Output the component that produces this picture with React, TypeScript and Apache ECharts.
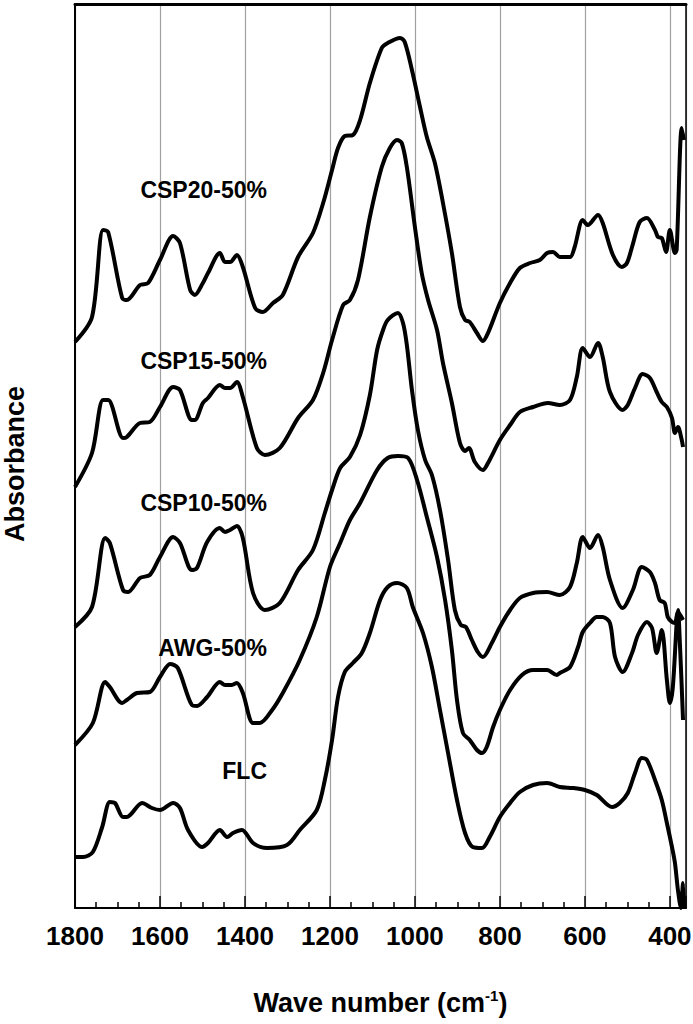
import React, { useEffect, useRef } from "react";
import * as echarts from "echarts";

// Wavenumber (cm-1) and absorbance (arbitrary units, stacked offsets) for each spectrum
const CSP20_WN = [1800, 1760, 1734, 1722, 1689, 1678, 1647, 1628, 1600, 1569, 1553, 1529, 1518, 1499, 1487, 1459, 1447, 1435, 1419, 1405, 1376, 1358, 1334, 1311, 1275, 1240, 1216, 1195, 1181, 1165, 1146, 1129, 1106, 1078, 1064, 1035, 1024, 1007, 988, 972, 953, 934, 913, 894, 882, 871, 854, 840, 828, 800, 776, 753, 729, 706, 689, 675, 659, 635, 624, 605, 593, 569, 558, 534, 513, 501, 489, 471, 454, 435, 428, 419, 409, 400, 388, 384, 372, 367];
const CSP20_ABS = [566, 591, 678, 676, 610, 608, 623, 625, 648, 672, 665, 618, 613, 625, 635, 655, 646, 646, 653, 641, 600, 596, 605, 613, 651, 675, 705, 738, 760, 772, 773, 788, 825, 860, 865, 870, 866, 838, 801, 771, 745, 705, 655, 601, 588, 586, 575, 567, 575, 605, 625, 640, 645, 648, 655, 656, 651, 651, 661, 688, 683, 693, 685, 653, 641, 645, 661, 686, 690, 678, 671, 670, 656, 678, 655, 658, 780, 768];

const CSP15_WN = [1800, 1760, 1734, 1722, 1687, 1678, 1647, 1624, 1600, 1569, 1553, 1525, 1518, 1499, 1487, 1459, 1447, 1435, 1419, 1405, 1372, 1353, 1318, 1275, 1240, 1216, 1195, 1169, 1153, 1134, 1106, 1078, 1059, 1042, 1031, 1019, 1000, 984, 969, 948, 934, 913, 894, 882, 873, 859, 840, 828, 800, 776, 753, 722, 687, 659, 635, 619, 605, 588, 569, 558, 541, 511, 499, 482, 464, 447, 431, 419, 407, 395, 388, 381, 372, 369];
const CSP15_ABS = [421, 455, 508, 508, 470, 471, 485, 486, 501, 521, 518, 488, 488, 505, 510, 523, 520, 520, 526, 511, 460, 453, 460, 490, 508, 535, 568, 603, 608, 628, 691, 741, 760, 768, 765, 741, 681, 635, 608, 578, 545, 505, 465, 457, 460, 446, 438, 445, 468, 483, 496, 501, 505, 503, 508, 531, 560, 551, 565, 551, 516, 498, 503, 520, 534, 530, 516, 506, 501, 490, 475, 481, 468, 461];

const CSP10_WN = [1800, 1760, 1729, 1718, 1687, 1675, 1647, 1624, 1600, 1569, 1553, 1525, 1513, 1489, 1459, 1447, 1435, 1419, 1405, 1381, 1353, 1318, 1275, 1240, 1212, 1195, 1176, 1153, 1129, 1106, 1089, 1075, 1064, 1040, 1028, 1019, 1007, 993, 976, 960, 941, 922, 906, 892, 880, 866, 852, 840, 819, 800, 776, 753, 722, 689, 659, 635, 619, 605, 588, 569, 558, 541, 511, 487, 466, 447, 435, 424, 412, 405, 395, 388, 381, 369];
const CSP10_ABS = [281, 301, 370, 365, 318, 316, 330, 333, 351, 371, 365, 338, 340, 366, 380, 376, 378, 382, 370, 315, 298, 305, 338, 358, 395, 418, 440, 451, 473, 513, 558, 578, 588, 595, 585, 563, 518, 478, 448, 433, 398, 348, 298, 283, 281, 268, 256, 251, 265, 281, 298, 310, 315, 316, 313, 321, 345, 371, 360, 373, 361, 328, 300, 318, 341, 336, 325, 308, 305, 291, 286, 285, 296, 288];

const AWG_WN = [1800, 1758, 1729, 1718, 1689, 1678, 1654, 1624, 1600, 1576, 1558, 1525, 1513, 1489, 1459, 1447, 1431, 1419, 1405, 1381, 1365, 1336, 1311, 1271, 1231, 1200, 1176, 1153, 1129, 1089, 1064, 1040, 1016, 995, 972, 948, 929, 913, 901, 887, 871, 854, 842, 831, 816, 800, 776, 748, 722, 689, 666, 659, 635, 616, 605, 588, 572, 558, 541, 529, 511, 489, 475, 454, 442, 431, 419, 407, 400, 393, 384, 381, 376, 369];
const AWG_ABS = [163, 185, 226, 221, 205, 208, 215, 216, 231, 244, 240, 203, 202, 211, 226, 223, 223, 225, 215, 185, 185, 198, 215, 248, 291, 341, 365, 388, 405, 438, 450, 452, 450, 428, 391, 351, 308, 258, 208, 175, 168, 158, 155, 161, 181, 198, 218, 233, 238, 238, 233, 235, 241, 261, 276, 285, 291, 291, 285, 251, 236, 255, 273, 286, 280, 255, 278, 228, 205, 221, 285, 298, 261, 188];

const FLC_WN = [1800, 1781, 1758, 1736, 1718, 1706, 1687, 1678, 1642, 1619, 1600, 1569, 1553, 1534, 1501, 1487, 1459, 1442, 1428, 1407, 1381, 1348, 1301, 1271, 1231, 1212, 1195, 1181, 1165, 1146, 1125, 1106, 1082, 1064, 1042, 1019, 1005, 981, 960, 941, 922, 901, 882, 864, 842, 824, 800, 776, 753, 722, 689, 659, 628, 600, 572, 536, 518, 499, 482, 466, 454, 435, 419, 407, 395, 388, 381, 374, 369, 367];
const FLC_ABS = [51, 51, 56, 81, 106, 105, 91, 91, 105, 100, 98, 105, 100, 78, 61, 65, 78, 71, 75, 78, 65, 60, 63, 78, 98, 128, 168, 211, 236, 245, 255, 275, 308, 321, 325, 320, 301, 275, 241, 198, 155, 108, 75, 61, 60, 71, 91, 105, 116, 123, 125, 121, 120, 118, 113, 101, 105, 115, 135, 150, 148, 128, 108, 85, 61, 45, 18, 0, 25, 1];

const SPECTRA = [
  { name: "CSP20-50%", wn: CSP20_WN, abs: CSP20_ABS },
  { name: "CSP15-50%", wn: CSP15_WN, abs: CSP15_ABS },
  { name: "CSP10-50%", wn: CSP10_WN, abs: CSP10_ABS },
  { name: "AWG-50%", wn: AWG_WN, abs: AWG_ABS },
  { name: "FLC", wn: FLC_WN, abs: FLC_ABS },
];

const LABEL_Y = [190, 361, 503, 648, 771];

const X_MIN = 362;
const X_MAX = 1800;
const Y_MAX = 904;

const FONT = "'Liberation Sans', Arial, sans-serif";

export default function App() {
  const ref = useRef<HTMLDivElement>(null);

  useEffect(() => {
    if (!ref.current) return;
    const chart = echarts.init(ref.current, undefined, { renderer: "svg" });

    const series = SPECTRA.map((s) => ({
      name: s.name,
      type: "line",
      xAxisIndex: 0,
      yAxisIndex: 0,
      data: s.wn.map((w, i) => [w, s.abs[i]]),
      showSymbol: false,
      symbol: "none",
      smooth: 0.3,
      lineStyle: { color: "#000", width: 4 },
      z: 5,
    }));

    const graphic: any[] = SPECTRA.map((s, i) => ({
      type: "text",
      x: 267,
      y: LABEL_Y[i],
      style: {
        text: s.name,
        fill: "#000",
        font: `bold 23px ${FONT}`,
        textAlign: "right",
        textVerticalAlign: "middle",
      },
      z: 10,
    }));
    graphic.push({
      type: "text",
      x: 15,
      y: 464,
      rotation: Math.PI / 2,
      style: {
        text: "Absorbance",
        fill: "#000",
        font: `bold 27px ${FONT}`,
        textAlign: "center",
        textVerticalAlign: "middle",
      },
      z: 10,
    });

    chart.setOption({
      animation: false,
      backgroundColor: "#fff",
      grid: { left: 75, right: 7, top: 4, bottom: 116, containLabel: false, outerBoundsMode: "none" },
      xAxis: [
        {
          type: "value",
          inverse: true,
          min: X_MIN,
          max: X_MAX,
          position: "bottom",
          splitNumber: 7,
          minInterval: 200,
          maxInterval: 200,
          axisLine: { show: true, onZero: false, lineStyle: { color: "#000", width: 2 } },
          axisTick: { show: true, inside: true, length: 12, lineStyle: { color: "#000", width: 1.5 } },
          minorTick: { show: true, splitNumber: 4, length: 6, lineStyle: { color: "#000", width: 1.5 } },
          splitLine: { show: true, lineStyle: { color: "#a0a0a0", width: 1.2 } },
          axisLabel: {
            show: true,
            margin: 15,
            color: "#000",
            fontSize: 26,
            fontWeight: "bold",
            fontFamily: FONT,
            formatter: (v: number) => (v % 200 === 0 ? String(v) : ""),
          },
          name: "{a|Wave number (cm}{s|-1}{a|)}",
          nameLocation: "middle",
          nameGap: 80,
          nameTextStyle: {
            rich: {
              a: { fontSize: 27, fontWeight: "bold", fontFamily: FONT, color: "#000", lineHeight: 30 },
              s: { fontSize: 15, fontWeight: "bold", fontFamily: FONT, color: "#000", verticalAlign: "top", lineHeight: 30 },
            },
          },
        },
        {
          type: "value",
          inverse: true,
          min: X_MIN,
          max: X_MAX,
          position: "top",
          axisLine: { show: true, onZero: false, lineStyle: { color: "#000", width: 3 } },
          axisTick: { show: false },
          axisLabel: { show: false },
          splitLine: { show: false },
        },
      ],
      yAxis: [
        {
          type: "value",
          min: 0,
          max: Y_MAX,
          position: "left",
          axisLine: { show: true, onZero: false, lineStyle: { color: "#000", width: 2 } },
          axisTick: { show: false },
          axisLabel: { show: false },
          splitLine: { show: false },
        },
        {
          type: "value",
          min: 0,
          max: Y_MAX,
          position: "right",
          axisLine: { show: true, onZero: false, lineStyle: { color: "#000", width: 1.5 } },
          axisTick: { show: false },
          axisLabel: { show: false },
          splitLine: { show: false },
        },
      ],
      series,
      graphic,
    });

    return () => chart.dispose();
  }, []);

  return (
    <div
      ref={ref}
      style={{ position: "absolute", left: 0, top: 0, width: 693, height: 1024 }}
    />
  );
}
